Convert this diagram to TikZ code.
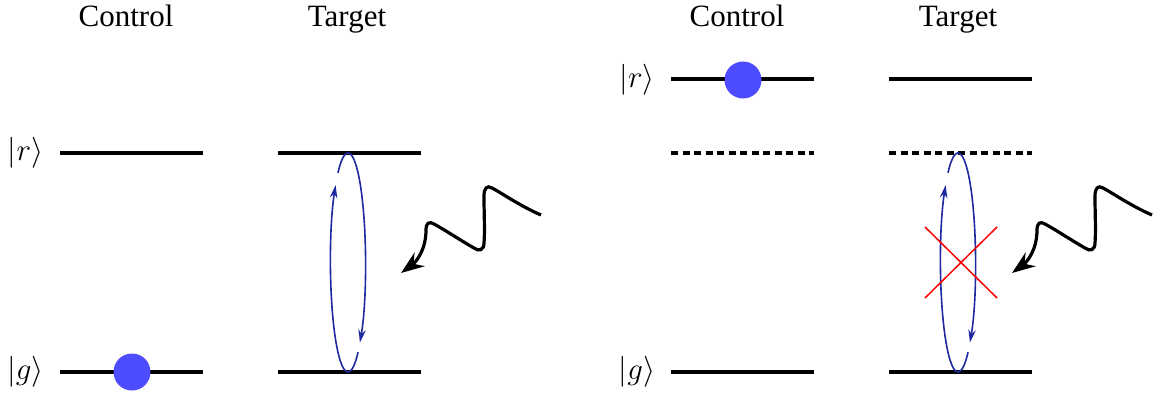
\documentclass[tikz,border=0pt]{standalone}
\usepackage{fix-cm}
\usepackage{fontspec}
\setmainfont{Liberation Serif}
\usetikzlibrary{arrows.meta}
\definecolor{atomblue}{RGB}{77,77,255}
\definecolor{rabiblue}{RGB}{30,40,160}
\begin{document}
\begin{tikzpicture}[x=1pt,y=1pt,
 level/.style={line width=3.5pt},
 dlevel/.style={line width=3.5pt, dash pattern=on 7pt off 4.5pt},
 lbl/.style={anchor=base, font=\fontsize{31}{37}\selectfont, inner sep=0pt},
 atom/.style={circle, fill=atomblue, inner sep=0pt, minimum size=37pt},
 rabi/.style={draw=rabiblue, line width=1.6pt, -{Stealth[length=13pt,width=7.5pt]}},
 wave/.style={line width=3.2pt, -{Stealth[length=23pt,width=17pt]}},
 cross/.style={red, line width=1.5pt}]
\useasboundingbox (0,0) rectangle (1153,-396);

% ---------- left panel ----------
\node[lbl] (ctlL) at (126,-27) {Control};
\node[lbl] (tgtL) at (347,-27) {Target};
\node[lbl] (rL) at (25.5,-160) {$|r\rangle$};
\node[lbl] (gL) at (25.5,-379) {$|g\rangle$};
\draw[level] (60,-153) -- (203,-153);
\draw[level] (60,-372) -- (203,-372);
\draw[level] (278,-153) -- (421,-153);
\draw[level] (278,-372) -- (421,-372);
\node[atom] (dotL) at (132,-372) {};
\coordinate (cL) at (348,-262.5);
\draw[rabi] (cL) ++(125:17.5 and 109.5) arc[start angle=125, end angle=-47, x radius=17.5, y radius=109.5];
\draw[rabi] (cL) ++(-55:17.5 and 109.5) arc[start angle=-55, end angle=-225, x radius=17.5, y radius=109.5];
\begin{scope}
\coordinate (wLs) at (541,-215);
\coordinate (wLe) at (401,-273);
\draw[wave] (wLs) .. controls (520,-206) and (500,-192) .. (492,-188)
 .. controls (487,-185) and (484,-188) .. (484,-196)
 .. controls (484,-215) and (485,-230) .. (484,-243)
 .. controls (484,-250) and (479,-252) .. (474,-248)
 .. controls (460,-240) and (445,-230) .. (434,-224)
 .. controls (429,-221) and (426,-223) .. (426,-230)
 .. controls (426,-250) and (416,-262) .. (wLe);
\end{scope}

% ---------- right panel ----------
\node[lbl] (ctlR) at (737,-27) {Control};
\node[lbl] (tgtR) at (958,-27) {Target};
\node[lbl] (rR) at (637,-87) {$|r\rangle$};
\node[lbl] (gR) at (637,-379) {$|g\rangle$};
\draw[level] (671,-79) -- (814,-79);
\draw[level] (889,-79) -- (1032,-79);
\draw[dlevel] (671,-153) -- (814,-153);
\draw[dlevel] (889,-153) -- (1032,-153);
\draw[level] (671,-372) -- (814,-372);
\draw[level] (889,-372) -- (1032,-372);
\node[atom] (dotR) at (743,-80) {};
\coordinate (cR) at (958,-262.5);
\draw[rabi] (cR) ++(125:17.5 and 109.5) arc[start angle=125, end angle=-47, x radius=17.5, y radius=109.5];
\draw[rabi] (cR) ++(-55:17.5 and 109.5) arc[start angle=-55, end angle=-225, x radius=17.5, y radius=109.5];
\coordinate (xa) at (925,-227);
\coordinate (xb) at (997,-298);
\coordinate (xc) at (997,-227);
\coordinate (xd) at (925,-298);
\draw[cross] (xa) -- (xb);
\draw[cross] (xc) -- (xd);
\begin{scope}[xshift=611pt]
\coordinate (wRs) at (541,-215);
\coordinate (wRe) at (401,-273);
\draw[wave] (wRs) .. controls (520,-206) and (500,-192) .. (492,-188)
 .. controls (487,-185) and (484,-188) .. (484,-196)
 .. controls (484,-215) and (485,-230) .. (484,-243)
 .. controls (484,-250) and (479,-252) .. (474,-248)
 .. controls (460,-240) and (445,-230) .. (434,-224)
 .. controls (429,-221) and (426,-223) .. (426,-230)
 .. controls (426,-250) and (416,-262) .. (wRe);
\end{scope}
\end{tikzpicture}
\end{document}
